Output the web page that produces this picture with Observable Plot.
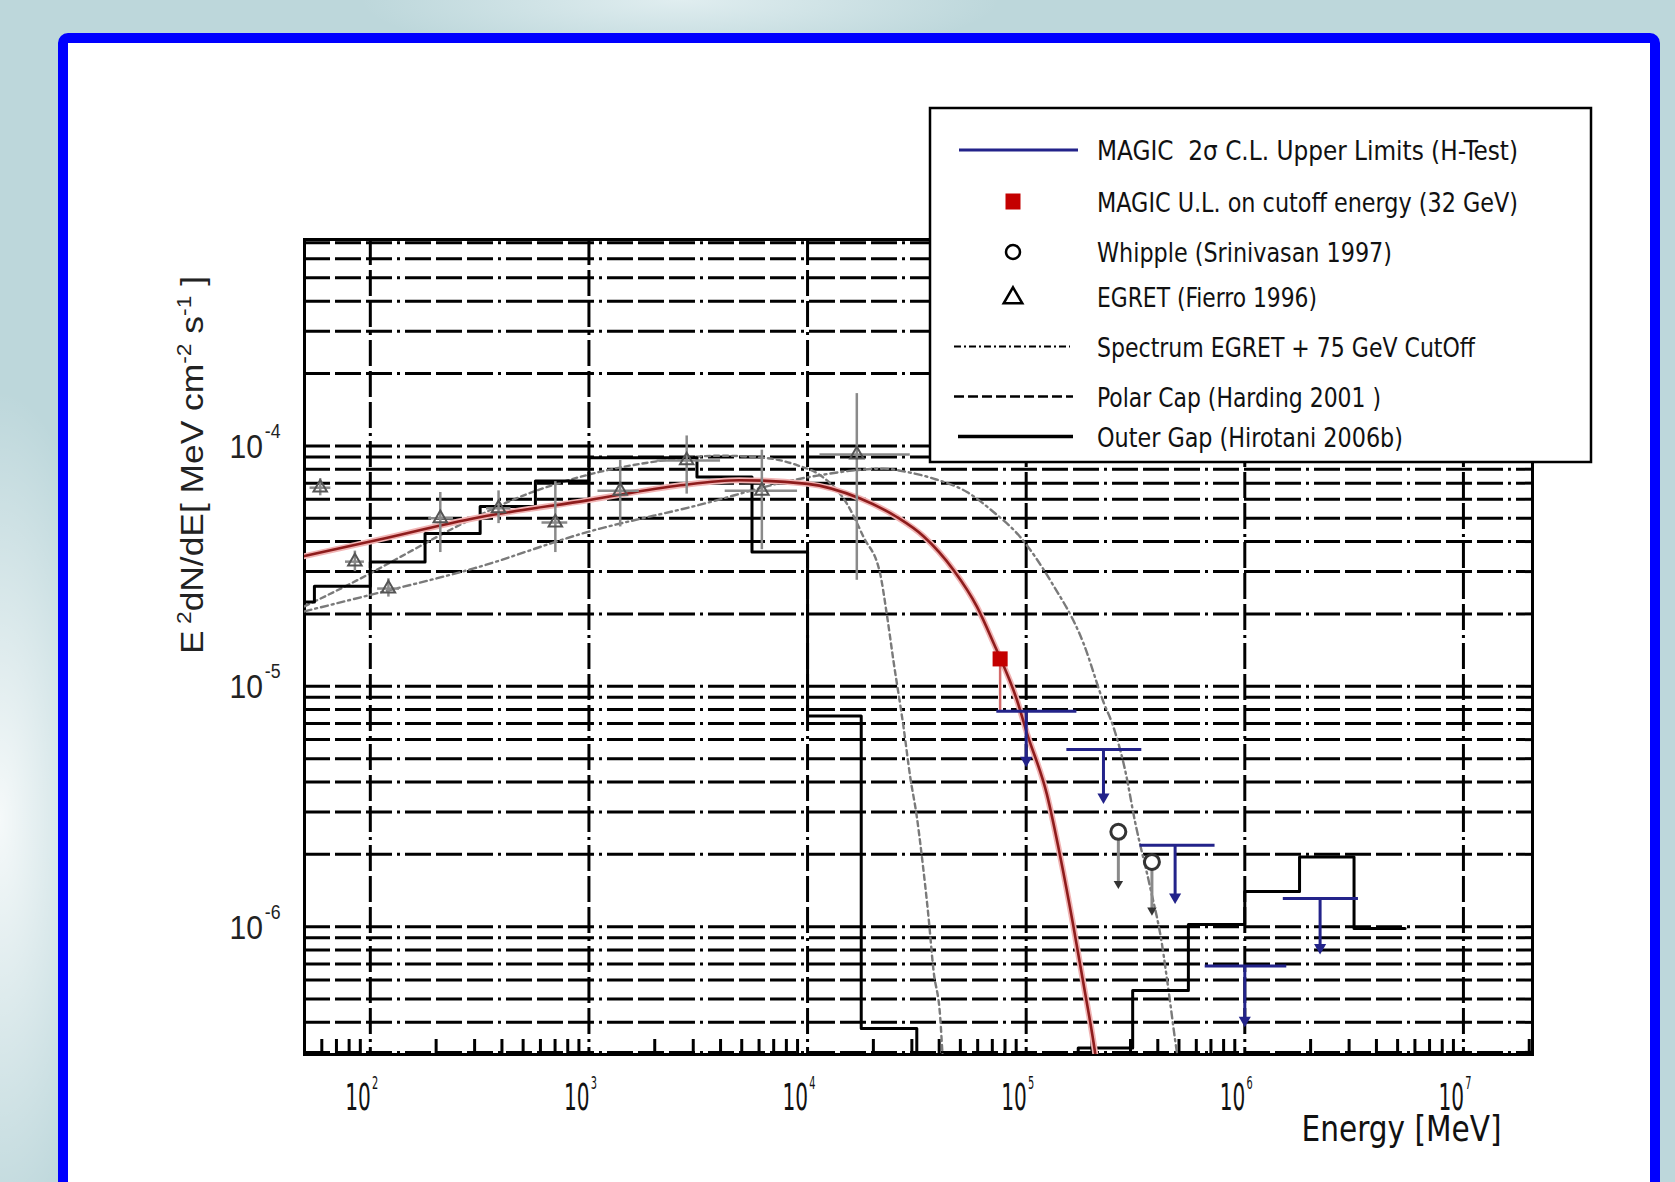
<!DOCTYPE html>
<html><head><meta charset="utf-8">
<script src="https://cdn.jsdelivr.net/npm/d3@7"></script>
<script src="https://cdn.jsdelivr.net/npm/@observablehq/plot@0.6"></script>
<style>
html,body{margin:0;padding:0;}
body{width:1675px;height:1182px;overflow:hidden;position:relative;
 background:
  radial-gradient(ellipse 120px 430px at 0px 820px, rgba(255,255,255,0.85), rgba(255,255,255,0) 100%),
  radial-gradient(ellipse 320px 60px at 680px 0px, rgba(228,240,242,0.9), rgba(228,240,242,0) 100%),
  #bdd7db;}
#panel{position:absolute;left:58px;top:33px;width:1602px;height:1220px;box-sizing:border-box;border:10px solid #0000ff;border-radius:10px;background:#fff;}
#chart{position:absolute;left:0;top:0;}
</style></head><body>
<div id="panel"></div><div id="chart"></div>
<script>
// ---------------- data ----------------
// Outer Gap (Hirotani 2006b): histogram bin edges (MeV) and E^2 dN/dE per bin
const outerGapEdges  = [50, 55.5, 100, 178, 318, 569, 1000, 3120, 5570, 10000, 17600, 31600, 173000, 307000, 552000, 1000000, 1780000, 3160000, 5410000];
const outerGapValues = [2.24e-5, 2.61e-5, 3.29e-5, 4.32e-5, 5.6e-5, 7.15e-5, 8.93e-5, 7.43e-5, 3.62e-5, 7.53e-6, 3.77e-7, 1.5e-7, 3.13e-7, 5.43e-7, 1.02e-6, 1.40e-6, 1.95e-6, 9.83e-7];

// EGRET spectrum with 32 GeV cutoff (red curve)
const cut32E = [50, 100, 316, 1000, 2620, 4870, 10000, 17400, 25600, 34000, 46600, 59600, 71000, 90800, 100700, 124400, 143300, 164600, 182800, 207000, 215000];
const cut32F = [3.48e-5, 4.0e-5, 5.05e-5, 5.95e-5, 6.86e-5, 7.2e-5, 6.95e-5, 6.04e-5, 5.06e-5, 4.2e-5, 3.04e-5, 2.14e-5, 1.51e-5, 8.75e-6, 6.4e-6, 3.55e-6, 1.95e-6, 1.0e-6, 5.8e-7, 2.96e-7, 2.3e-7];

// Spectrum EGRET + 75 GeV cutoff (grey dash-dot)
const cut75E = [50, 100, 300, 1000, 3000, 10000, 22260, 28480, 37670, 53580, 70880, 93900, 128800, 182800, 225700, 250600, 283500, 315100, 369000, 417600, 447800, 491000, 520000];
const cut75F = [2.05e-5, 2.4e-5, 3.1e-5, 4.4e-5, 5.6e-5, 7.4e-5, 8.04e-5, 7.79e-5, 7.31e-5, 6.43e-5, 5.31e-5, 4.18e-5, 2.76e-5, 1.51e-5, 8.6e-6, 6.78e-6, 4.48e-6, 2.72e-6, 1.46e-6, 8.5e-7, 5.44e-7, 2.94e-7, 2.2e-7];

// Polar Cap (Harding 2001) (grey dashed)
const polarCapE = [50, 100, 137, 258, 521, 1000, 2000, 4000, 6500, 9000, 11430, 15130, 18030, 21480, 23030, 24700, 27470, 29480, 31620, 33350, 35740, 37670, 40430, 41500, 42500];
const polarCapF = [2.15e-5, 2.95e-5, 3.45e-5, 4.7e-5, 6.3e-5, 7.6e-5, 8.6e-5, 9.1e-5, 8.9e-5, 8.3e-5, 7.55e-5, 5.75e-5, 4.18e-5, 2.94e-5, 2.0e-5, 1.28e-5, 6.78e-6, 4.2e-6, 2.86e-6, 1.95e-6, 1.1e-6, 6.59e-7, 4.21e-7, 2.9e-7, 2.3e-7];

// EGRET (Fierro) data points with error bars
const egretE   = [59, 85, 121, 209, 386, 702, 1390, 2800, 6180, 16800];
const egretF   = [6.7e-5, 3.3e-5, 2.55e-5, 5.0e-5, 5.5e-5, 4.8e-5, 6.5e-5, 8.7e-5, 6.5e-5, 9.2e-5];
const egretLo  = [6.2e-5, 3.0e-5, 2.35e-5, 3.6e-5, 4.75e-5, 3.6e-5, 4.6e-5, 6.3e-5, 3.7e-5, 2.76e-5];
const egretHi  = [7.3e-5, 3.65e-5, 2.8e-5, 6.4e-5, 6.5e-5, 7.1e-5, 8.7e-5, 1.1e-4, 9.6e-5, 1.65e-4];
const egretElo = [53, 77, 108, 185, 340, 610, 1100, 2050, 4200, 11400];
const egretEhi = [66, 94, 136, 240, 440, 800, 1700, 4000, 9000, 29500];

// Whipple upper limits
const whippleE     = [264000, 376000];
const whippleF     = [2.48e-6, 1.86e-6];
const whippleArrow = [1.51e-6, 1.17e-6];

// MAGIC 2 sigma upper limits
const magicE     = [100000, 225700, 480000, 1000000, 2210000];
const magicElo   = [73400, 153500, 332000, 659000, 1500000];
const magicEhi   = [170600, 338000, 731000, 1556000, 3310000];
const magicF     = [7.87e-6, 5.46e-6, 2.18e-6, 6.87e-7, 1.31e-6];
const magicArrow = [4.92e-6, 3.46e-6, 1.33e-6, 4.08e-7, 8.2e-7];

// MAGIC U.L. on cutoff energy
const cutoffE = [76000];
const cutoffF = [1.30e-5];
const cutoffArrow = [7.9e-6];

// ticks
const xDecades   = [1e2, 1e3, 1e4, 1e5, 1e6, 1e7];
const xExponents = ["2", "3", "4", "5", "6", "7"];
const yDecades   = [1e-4, 1e-5, 1e-6];
const yExponents = ["-4", "-5", "-6"];
const xDomain = [50, 2.07e7];
const yDomain = [2.94e-7, 7.22e-4];

const legendLabels = [
  "MAGIC  2\u03c3 C.L. Upper Limits (H-Test)",
  "MAGIC U.L. on cutoff energy (32 GeV)",
  "Whipple (Srinivasan 1997)",
  "EGRET (Fierro 1996)",
  "Spectrum EGRET + 75 GeV CutOff",
  "Polar Cap (Harding 2001 )",
  "Outer Gap (Hirotani 2006b)"
];

// ---------------- build tables ----------------
const zip = (E, F) => E.map((e, i) => ({E: e, F: F[i]}));
const outerGap = outerGapEdges.map((e, i) => ({E: e, F: outerGapValues[Math.min(i, outerGapValues.length - 1)]}));
const cut32 = zip(cut32E, cut32F);
const cut75 = zip(cut75E, cut75F);
const polarCap = zip(polarCapE, polarCapF);
const egret = egretE.map((e, i) => ({E: e, F: egretF[i], lo: egretLo[i], hi: egretHi[i], Elo: egretElo[i], Ehi: egretEhi[i]}));
const whipple = whippleE.map((e, i) => ({E: e, F: whippleF[i], A: whippleArrow[i]}));
const magic = magicE.map((e, i) => ({E: e, F: magicF[i], A: magicArrow[i], Elo: magicElo[i], Ehi: magicEhi[i]}));
const cutoff = cutoffE.map((e, i) => ({E: e, F: cutoffF[i], A: cutoffArrow[i]}));

const yGrid = [];
for (let k = -7; k <= -3; k++) for (let m = 1; m <= 9; m++) { const v = m * Math.pow(10, k); if (v > yDomain[0] && v < yDomain[1]) yGrid.push(v); }
const xMinor = [];
for (let k = 1; k <= 7; k++) for (let m = 2; m <= 9; m++) { const v = m * Math.pow(10, k); if (v > xDomain[0] && v < xDomain[1]) xMinor.push(v); }

const narrow = "'Liberation Sans Narrow','DejaVu Sans Condensed','Liberation Sans',sans-serif";
const sans = "'Liberation Sans',Arial,Helvetica,sans-serif";
const W = 1675, H = 1182;
const grid = {stroke: "#000", strokeWidth: 3, strokeDasharray: "26,5,26,5,26,5,3,5"};
const navy = "#23238a";

const plot = Plot.plot({
  width: W, height: H,
  marginLeft: 304, marginRight: W - 1532, marginTop: 239, marginBottom: H - 1054,
  x: {type: "log", domain: xDomain, axis: null},
  y: {type: "log", domain: yDomain, axis: null},
  style: {background: "transparent", overflow: "visible"},
  marks: [
    Plot.ruleY(yGrid, {y: d => d, ...grid}),
    Plot.ruleX(xDecades, {x: d => d, ...grid}),
    Plot.ruleX(xMinor, {x: d => d, insetTop: 800, stroke: "#000", strokeWidth: 3}),
    Plot.frame({stroke: "#000", strokeWidth: 3}),
    // models
    Plot.line(polarCap, {x: "E", y: "F", curve: "monotone-x", stroke: "#7a7a7a", strokeWidth: 2.4, strokeDasharray: "5,4", clip: true}),
    Plot.line(cut75, {x: "E", y: "F", curve: "monotone-x", stroke: "#7a7a7a", strokeWidth: 2.4, strokeDasharray: "7,4,2,4", clip: true}),
    Plot.line(outerGap, {x: "E", y: "F", curve: "step-after", stroke: "#000", strokeWidth: 3, clip: true}),
    Plot.line(cut32, {x: "E", y: "F", curve: "monotone-x", stroke: "#f1b4b4", strokeWidth: 6, clip: true}),
    Plot.line(cut32, {x: "E", y: "F", curve: "monotone-x", stroke: "#8e1c1c", strokeWidth: 2.6, clip: true}),
    // EGRET
    Plot.ruleY(egret, {y: "F", x1: "Elo", x2: "Ehi", stroke: "#8a8a8a", strokeWidth: 2.5}),
    Plot.ruleX(egret, {x: "E", y1: "lo", y2: "hi", stroke: "#8a8a8a", strokeWidth: 2.5}),
    Plot.dot(egret, {x: "E", y: "F", symbol: "triangle", r: 5, stroke: "#555", strokeWidth: 2, fill: "none"}),
    // Whipple
    Plot.ruleX(whipple, {x: "E", y1: "F", y2: "A", stroke: "#8a8a8a", strokeWidth: 3}),
    Plot.dot(whipple, {x: "E", y: "A", symbol: "triangle", rotate: 180, r: 3.5, fill: "#333", stroke: "none"}),
    Plot.dot(whipple, {x: "E", y: "F", r: 7.5, stroke: "#333", strokeWidth: 3, fill: "white"}),
    // cutoff UL
    Plot.ruleX(cutoff, {x: "E", y1: "F", y2: "A", stroke: "#d46a6a", strokeWidth: 2.5}),
    Plot.dot(cutoff, {x: "E", y: "F", symbol: "square", r: 8.5, fill: "#c40000", stroke: "none"}),
    // MAGIC UL
    Plot.ruleY(magic, {y: "F", x1: "Elo", x2: "Ehi", stroke: navy, strokeWidth: 3}),
    Plot.ruleX(magic, {x: "E", y1: "F", y2: "A", stroke: navy, strokeWidth: 3}),
    Plot.dot(magic, {x: "E", y: "A", symbol: "triangle", rotate: 180, r: 4.5, fill: navy, stroke: "none"}),
    // tick labels: "10" base, exponent added as a superscript tspan below
    Plot.text(xDecades, {x: d => d, text: () => "10", frameAnchor: "bottom", lineAnchor: "bottom", dy: 55, dx: -25, textAnchor: "start", fontSize: 37, fontFamily: narrow, fill: "#111"}),
    Plot.text(yDecades, {y: d => d, text: () => "10", frameAnchor: "left", lineAnchor: "bottom", dx: -75, dy: 12, textAnchor: "start", fontSize: 34, fontFamily: sans, fill: "#222"}),
    Plot.text(["Energy [MeV]"], {text: d => d, frameAnchor: "bottom-right", lineAnchor: "bottom", textAnchor: "end", dx: -31, dy: 86, fontSize: 36, fontFamily: narrow, fill: "#111"})
  ]
});
document.getElementById("chart").appendChild(plot);

const svg = d3.select(plot);
// superscript exponents on the tick labels, then squeeze widths to the reference's condensed look
svg.selectAll('g[font-size="37"] text').each(function(d, i) {
  d3.select(this).append("tspan").attr("dx", 2).attr("dy", -21).attr("font-size", 18).text(xExponents[i]);
}).attr("textLength", 33).attr("lengthAdjust", "spacingAndGlyphs");
svg.selectAll('g[font-size="34"] text').each(function(d, i) {
  d3.select(this).append("tspan").attr("dx", 2).attr("dy", -20).attr("font-size", 20).text(yExponents[i]);
}).attr("textLength", 51).attr("lengthAdjust", "spacingAndGlyphs");
svg.selectAll('g[font-size="36"] text').attr("textLength", 200).attr("lengthAdjust", "spacingAndGlyphs");

// y axis title with superscripts
const yt = svg.append("text").attr("transform", "translate(203,465) rotate(-90)")
  .attr("text-anchor", "middle").attr("font-family", sans).attr("font-size", 31).attr("fill", "#222")
  .attr("textLength", 378).attr("lengthAdjust", "spacingAndGlyphs");
yt.append("tspan").text("E");
yt.append("tspan").attr("dy", -12).attr("font-size", 20).text(" 2");
yt.append("tspan").attr("dy", 12).text("dN/dE[ MeV cm");
yt.append("tspan").attr("dy", -12).attr("font-size", 20).text("-2");
yt.append("tspan").attr("dy", 12).text(" s");
yt.append("tspan").attr("dy", -12).attr("font-size", 20).text("-1");
yt.append("tspan").attr("dy", 12).text(" ]");

// legend
const lg = svg.append("g").attr("text-anchor", "start");
lg.append("rect").attr("x", 930).attr("y", 108).attr("width", 661).attr("height", 354)
  .attr("fill", "white").attr("stroke", "#000").attr("stroke-width", 2.5);
const rowY = [150, 201.5, 252, 297, 346.5, 396.5, 436.5];
const textW = [421, 421, 295, 220, 378, 284, 306];
lg.append("line").attr("x1", 959).attr("x2", 1078).attr("y1", rowY[0]).attr("y2", rowY[0]).attr("stroke", navy).attr("stroke-width", 3);
lg.append("rect").attr("x", 1005.5).attr("y", rowY[1] - 8).attr("width", 15).attr("height", 16).attr("fill", "#c40000");
lg.append("circle").attr("cx", 1013).attr("cy", rowY[2]).attr("r", 7).attr("fill", "none").attr("stroke", "#000").attr("stroke-width", 2.5);
lg.append("path").attr("d", d3.symbol(d3.symbolTriangle, 150)()).attr("transform", `translate(1013,${rowY[3] + 1})`)
  .attr("fill", "none").attr("stroke", "#000").attr("stroke-width", 2.5);
lg.append("line").attr("x1", 954).attr("x2", 1070).attr("y1", rowY[4]).attr("y2", rowY[4]).attr("stroke", "#000").attr("stroke-width", 1.8).attr("stroke-dasharray", "7,3,2,3");
lg.append("line").attr("x1", 954).attr("x2", 1073).attr("y1", rowY[5]).attr("y2", rowY[5]).attr("stroke", "#000").attr("stroke-width", 2.5).attr("stroke-dasharray", "10,4");
lg.append("line").attr("x1", 958).attr("x2", 1073).attr("y1", rowY[6]).attr("y2", rowY[6]).attr("stroke", "#000").attr("stroke-width", 3.5);
legendLabels.forEach((t, i) => {
  lg.append("text").attr("x", 1097).attr("y", rowY[i] + 10).attr("text-anchor", "start")
    .attr("font-family", narrow).attr("font-size", 27).attr("fill", "#111")
    .attr("textLength", textW[i]).attr("lengthAdjust", "spacingAndGlyphs").text(t);
});
</script></body></html>
